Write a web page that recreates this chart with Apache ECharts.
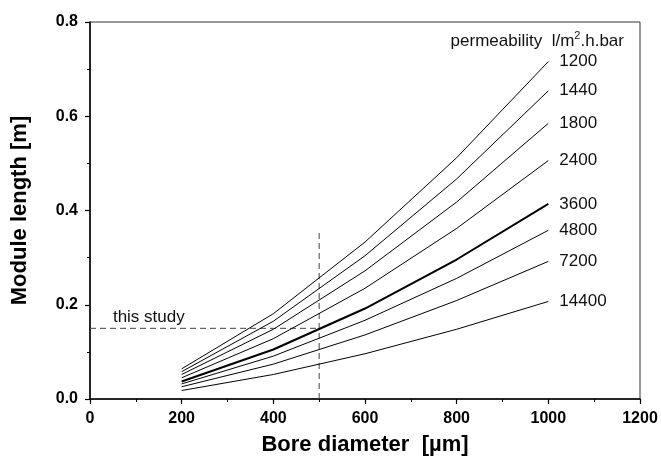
<!DOCTYPE html>
<html>
<head>
<meta charset="utf-8">
<script src="https://cdn.jsdelivr.net/npm/echarts@6/dist/echarts.min.js"></script>
<style>
  html, body { margin: 0; padding: 0; background: #fff; }
  #chart { width: 661px; height: 462px; }
</style>
</head>
<body>
<div id="chart"></div>
<script>
// Bore diameter (µm) at which module length was computed
const boreDiameters = [200, 400, 600, 800, 1000];

// Membrane permeability classes (l/m².h.bar)
const permeabilities = ['1200', '1440', '1800', '2400', '3600', '4800', '7200', '14400'];

// Module length (m) for each permeability, one value per bore diameter
const length1200  = [0.064, 0.181, 0.333, 0.512, 0.716];
const length1440  = [0.058, 0.165, 0.304, 0.467, 0.654];
const length1800  = [0.052, 0.148, 0.272, 0.418, 0.585];
const length2400  = [0.045, 0.128, 0.235, 0.362, 0.506];
const length3600  = [0.037, 0.105, 0.192, 0.296, 0.414];
const length4800  = [0.032, 0.091, 0.167, 0.256, 0.358];
const length7200  = [0.026, 0.074, 0.136, 0.209, 0.292];
const length14400 = [0.018, 0.052, 0.096, 0.148, 0.207];

const lengths = [length1200, length1440, length1800, length2400,
                 length3600, length4800, length7200, length14400];

// Operating point of this study
const studyDiameter = 500;
const studyLength = 0.15;
const studyGuideTop = 0.355;

// Axis ticks
const xTicks = { min: 0, max: 1200, interval: 200 };
const yTicks = { min: 0, max: 0.8, interval: 0.2 };

const FONT = 'Arial, "Liberation Sans", sans-serif';

const chart = echarts.init(document.getElementById('chart'), null, { renderer: 'canvas' });

const curveSeries = permeabilities.map((p, i) => ({
  name: p,
  type: 'line',
  data: boreDiameters.map((d, j) => [d, lengths[i][j]]),
  symbol: 'none',
  smooth: false,
  lineStyle: { color: '#000', width: p === '3600' ? 2 : 1 },
  endLabel: {
    show: true,
    formatter: p,
    distance: 11,
    color: '#111',
    fontFamily: FONT,
    fontSize: 17
  },
  z: 3,
  silent: true
}));

const guideStyle = { color: '#444', width: 1, type: [6, 4] };

const tickFont = { fontFamily: FONT, fontSize: 16, fontWeight: 'bold', color: '#000' };
const titleFont = { fontFamily: FONT, fontSize: 22, fontWeight: 'bold', color: '#000' };

chart.setOption({
  animation: false,
  backgroundColor: '#fff',
  grid: {
    left: 90, right: 21, top: 22, bottom: 63,
    show: true, borderColor: '#333', borderWidth: 1, backgroundColor: 'transparent'
  },
  xAxis: {
    type: 'value',
    min: xTicks.min, max: xTicks.max, interval: xTicks.interval,
    name: 'Bore diameter  [µm]',
    nameLocation: 'middle',
    nameGap: 35,
    nameTextStyle: titleFont,
    axisLine: { show: true, lineStyle: { color: '#000', width: 1.5 } },
    axisTick: { show: true, inside: false, length: 5, lineStyle: { color: '#000', width: 1.2 } },
    minorTick: { show: true, splitNumber: 2, length: 3, lineStyle: { color: '#000', width: 1 } },
    axisLabel: Object.assign({ margin: 12, formatter: v => String(v) }, tickFont),
    splitLine: { show: false }
  },
  yAxis: {
    type: 'value',
    min: yTicks.min, max: yTicks.max, interval: yTicks.interval,
    name: 'Module length [m]',
    nameLocation: 'middle',
    nameGap: 59,
    nameTextStyle: titleFont,
    axisLine: { show: true, lineStyle: { color: '#000', width: 1.5 } },
    axisTick: { show: true, inside: false, length: 5, lineStyle: { color: '#000', width: 1.2 } },
    minorTick: { show: true, splitNumber: 2, length: 3, lineStyle: { color: '#000', width: 1 } },
    axisLabel: Object.assign({ margin: 12, formatter: v => v.toFixed(1) }, tickFont),
    splitLine: { show: false }
  },
  series: [
    ...curveSeries,
    {
      type: 'line',
      data: [[0, studyLength], [studyDiameter, studyLength]],
      symbol: 'none',
      lineStyle: guideStyle,
      z: 2,
      silent: true
    },
    {
      type: 'line',
      data: [[studyDiameter, 0], [studyDiameter, studyGuideTop]],
      symbol: 'none',
      lineStyle: guideStyle,
      z: 2,
      silent: true
    }
  ]
});

// Text annotations placed in data coordinates
const studyPos = chart.convertToPixel({ gridIndex: 0 }, [50, studyLength]);
const legendPos = chart.convertToPixel({ gridIndex: 0 }, [1165, 0.76]);

chart.setOption({
  graphic: [
    {
      type: 'text',
      x: studyPos[0],
      y: studyPos[1] - 3,
      style: {
        text: 'this study',
        fontFamily: FONT, fontSize: 17, fill: '#111',
        textAlign: 'left', textVerticalAlign: 'bottom'
      }
    },
    {
      type: 'text',
      x: legendPos[0],
      y: legendPos[1],
      style: {
        text: 'permeability  l/m{sup|2}.h.bar',
        fontFamily: FONT, fontSize: 17, fill: '#111',
        textAlign: 'right', textVerticalAlign: 'middle',
        rich: {
          sup: { fontFamily: FONT, fontSize: 11, fill: '#111', verticalAlign: 'top', padding: [0, 0, 9, 0] }
        }
      }
    }
  ]
});
</script>
</body>
</html>
